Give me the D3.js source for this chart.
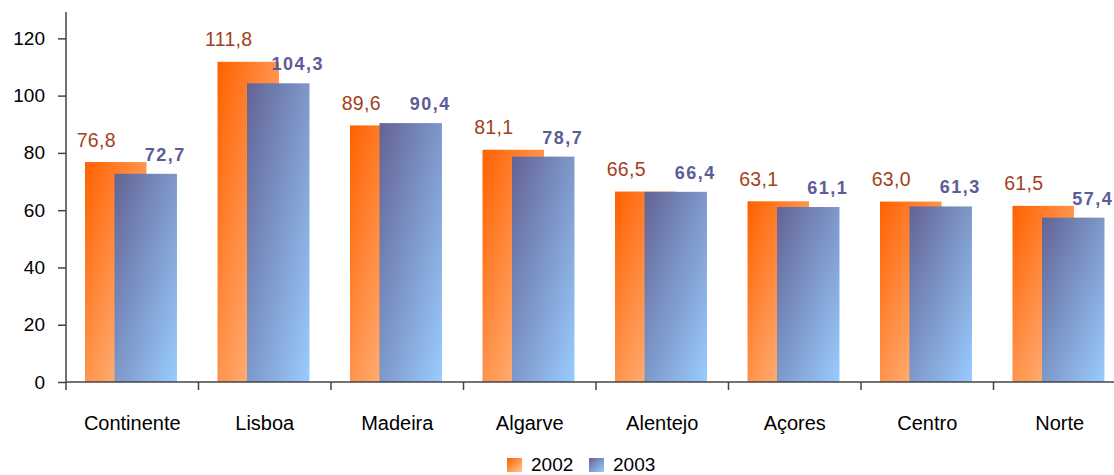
<!DOCTYPE html>
<html>
<head>
<meta charset="utf-8">
<script src="https://cdn.jsdelivr.net/npm/d3@7"></script>
<style>
  html, body { margin: 0; padding: 0; background: #fff; }
  svg { display: block; }
  text { font-family: "Liberation Sans", Arial, sans-serif; }
</style>
</head>
<body>
<svg id="chart" width="1114" height="475"></svg>
<script>
const categories = ["Continente", "Lisboa", "Madeira", "Algarve", "Alentejo", "Açores", "Centro", "Norte"];
const values2002 = [76.8, 111.8, 89.6, 81.1, 66.5, 63.1, 63.0, 61.5];
const values2003 = [72.7, 104.3, 90.4, 78.7, 66.4, 61.1, 61.3, 57.4];
const seriesNames = ["2002", "2003"];
const yTicks = [0, 20, 40, 60, 80, 100, 120];

const svg = d3.select("#chart");
const fmt = v => v.toFixed(1).replace(".", ",");

const x = d3.scaleBand().domain(categories).range([66, 1126]).paddingInner(0).paddingOuter(0);
const y = d3.scaleLinear().domain([0, 129.2]).range([382, 12]);

const defs = svg.append("defs");
function grad(id, c1, c2) {
  const g = defs.append("linearGradient").attr("id", id)
    .attr("x1", 0).attr("y1", 0).attr("x2", 1).attr("y2", 1);
  g.append("stop").attr("offset", "0%").attr("stop-color", c1);
  g.append("stop").attr("offset", "100%").attr("stop-color", c2);
}
grad("gOrange", "#ff6100", "#ffc597");
grad("gBlue", "#636394", "#99ccff");

const bw = x.bandwidth();
const barW = bw * 0.464;
const off1 = bw * 0.1434;
const off2 = bw * 0.366;

// bars 2002
svg.append("g").selectAll("rect").data(categories).join("rect")
  .attr("x", (d) => x(d) + off1)
  .attr("width", barW)
  .attr("y", (d, i) => y(values2002[i]))
  .attr("height", (d, i) => y(0) - y(values2002[i]))
  .attr("fill", "url(#gOrange)");

// bars 2003
svg.append("g").selectAll("rect").data(categories).join("rect")
  .attr("x", (d) => x(d) + off2)
  .attr("width", barW + 1)
  .attr("y", (d, i) => y(values2003[i]))
  .attr("height", (d, i) => y(0) - y(values2003[i]))
  .attr("fill", "url(#gBlue)");

// labels 2002
svg.append("g").selectAll("text").data(categories).join("text")
  .attr("x", (d) => x(d) + off1 + barW / 2 - 19.5)
  .attr("y", (d, i) => y(values2002[i]) - 15.5)
  .attr("text-anchor", "middle")
  .attr("font-size", "19.5px")
  .attr("letter-spacing", "0.3px")
  .attr("fill", "#a3401a")
  .text((d, i) => fmt(values2002[i]));

// labels 2003
svg.append("g").selectAll("text").data(categories).join("text")
  .attr("x", (d) => x(d) + off2 + barW / 2 + 20)
  .attr("y", (d, i) => y(values2003[i]) - 13)
  .attr("text-anchor", "middle")
  .attr("font-size", "18px")
  .attr("font-weight", "bold")
  .attr("letter-spacing", "1.5px")
  .attr("fill", "#5c5c96")
  .text((d, i) => fmt(values2003[i]));

// y axis
const yAxis = svg.append("g").attr("transform", "translate(66,0)")
  .call(d3.axisLeft(y).tickValues(yTicks).tickSize(8).tickPadding(13).tickFormat(d3.format("d")));
yAxis.select(".domain").attr("d", `M0,${y(129.2)}V390`);
yAxis.selectAll("line, .domain").attr("stroke", "#444").attr("stroke-width", 1.5);
yAxis.selectAll("text").attr("font-size", "19px").attr("fill", "#000")
  .attr("font-family", "'Liberation Sans', Arial, sans-serif");

// x axis
const xAxis = svg.append("g").attr("transform", `translate(0,${y(0)})`)
  .call(d3.axisBottom(x).tickSize(0).tickPadding(34));
xAxis.select(".domain").attr("d", "M66,0H1126").attr("stroke", "#444").attr("stroke-width", 1.5);
xAxis.selectAll("text").attr("font-size", "20px").attr("fill", "#000")
  .attr("font-family", "'Liberation Sans', Arial, sans-serif");
// band boundary ticks
xAxis.append("g").selectAll("line").data(categories).join("line")
  .attr("x1", d => x(d) + bw).attr("x2", d => x(d) + bw)
  .attr("y1", 0).attr("y2", 8)
  .attr("stroke", "#444").attr("stroke-width", 1.5);

// legend
const legend = svg.append("g");
const legendItems = [
  { name: seriesNames[0], fill: "url(#gOrange)", x: 507 },
  { name: seriesNames[1], fill: "url(#gBlue)", x: 589 }
];
legendItems.forEach(it => {
  legend.append("rect").attr("x", it.x).attr("y", 458).attr("width", 15).attr("height", 14).attr("fill", it.fill);
  legend.append("text").attr("x", it.x + 24).attr("y", 471)
    .attr("font-size", "19px").attr("fill", "#000").text(it.name);
});
</script>
</body>
</html>
